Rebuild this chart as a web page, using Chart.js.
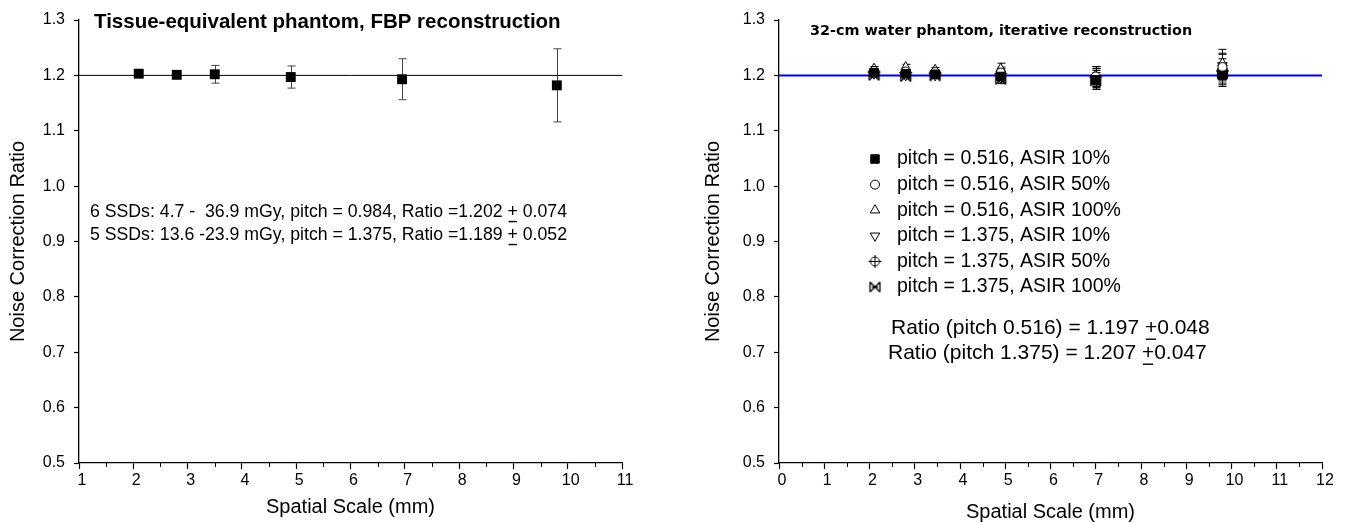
<!DOCTYPE html>
<html>
<head>
<meta charset="utf-8">
<title>Noise correction ratio</title>
<script src="https://cdn.jsdelivr.net/npm/chart.js@4.4.0/dist/chart.umd.min.js"></script>
<style>
  html, body { margin: 0; padding: 0; background: #fff; }
  .row { display: flex; width: 1349px; height: 523px; }
  .box { position: relative; height: 523px; }
</style>
</head>
<body>
<div class="row">
  <div class="box" style="width:675px"><canvas id="fbpChart"></canvas></div>
  <div class="box" style="width:674px"><canvas id="iterChart"></canvas></div>
</div>
<script>
const FONT = "'Liberation Sans', Arial, sans-serif";

// tick labels
const yTicks = [0.5, 0.6, 0.7, 0.8, 0.9, 1.0, 1.1, 1.2, 1.3];
const fbpXTicks = [1, 2, 3, 4, 5, 6, 7, 8, 9, 10, 11];
const iterXTicks = [0, 1, 2, 3, 4, 5, 6, 7, 8, 9, 10, 11, 12];
const refRatio = 1.2;

// tissue-equivalent phantom, FBP
const fbpScale = [2.1, 2.8, 3.5, 4.9, 6.95, 9.8];
const fbpRatio = [1.203, 1.201, 1.202, 1.197, 1.193, 1.182];
const fbpError = [0.005, 0.002, 0.016, 0.020, 0.037, 0.066];

// 32-cm water phantom, iterative (ASIR)
const iterScale = [2.1, 2.8, 3.45, 4.9, 7.0, 9.8];
const iterLabels = [
  'pitch = 0.516, ASIR 10%',
  'pitch = 0.516, ASIR 50%',
  'pitch = 0.516, ASIR 100%',
  'pitch = 1.375, ASIR 10%',
  'pitch = 1.375, ASIR 50%',
  'pitch = 1.375, ASIR 100%'
];
const p516asir10 = [1.205, 1.203, 1.202, 1.198, 1.192, 1.200];
const p516asir50 = [1.208, 1.207, 1.206, 1.205, 1.198, 1.215];
const p516asir100 = [1.212, 1.215, 1.210, 1.212, 1.200, 1.222];
const p1375asir10 = [1.203, 1.200, 1.200, 1.196, 1.195, 1.218];
const p1375asir50 = [1.206, 1.205, 1.204, 1.203, 1.197, 1.208];
const p1375asir100 = [1.200, 1.198, 1.199, 1.193, 1.190, 1.203];
const p516asir10Err = [0.004, 0.004, 0.004, 0.008, 0.017, 0.020];
const p516asir50Err = [0.004, 0.004, 0.004, 0.010, 0.018, 0.025];
const p516asir100Err = [0.004, 0.005, 0.004, 0.010, 0.016, 0.025];
const p1375asir10Err = [0.004, 0.004, 0.004, 0.008, 0.017, 0.020];
const p1375asir50Err = [0.004, 0.004, 0.004, 0.009, 0.016, 0.022];
const p1375asir100Err = [0.004, 0.004, 0.004, 0.008, 0.015, 0.020];

const iterNotes = ['Ratio (pitch 0.516) = 1.197 ±0.048', 'Ratio (pitch 1.375) = 1.207 ±0.047'];
const fbpNotes = [
  '6 SSDs: 4.7 -  36.9 mGy, pitch = 0.984, Ratio =1.202 ± 0.074',
  '5 SSDs: 13.6 -23.9 mGy, pitch = 1.375, Ratio =1.189 ± 0.052'
];

function points(xs, ys) {
  return xs.map((x, i) => ({ x: x, y: ys[i] }));
}

// small canvases for the two markers Chart.js has no style for
function markerCanvas(size, draw) {
  const c = document.createElement('canvas');
  c.width = c.height = size;
  const g = c.getContext('2d');
  g.strokeStyle = '#000';
  g.fillStyle = '#fff';
  g.lineWidth = 1;
  draw(g, size / 2);
  return c;
}
const circlePlus = markerCanvas(15, (g, m) => {
  g.beginPath();
  g.arc(m, m, 4.5, 0, Math.PI * 2);
  g.fill();
  g.stroke();
  g.beginPath();
  g.moveTo(m, m - 6.5); g.lineTo(m, m + 6.5);
  g.moveTo(m - 6.5, m); g.lineTo(m + 6.5, m);
  g.stroke();
});
const bowCross = markerCanvas(15, (g, m) => {
  g.lineWidth = 1.3;
  g.beginPath();
  g.moveTo(m - 5, m - 5); g.lineTo(m + 5, m + 5);
  g.moveTo(m - 5, m + 5); g.lineTo(m + 5, m - 5);
  g.moveTo(m - 5, m - 5); g.lineTo(m - 5, m + 5);
  g.moveTo(m + 5, m - 5); g.lineTo(m + 5, m + 5);
  g.moveTo(m - 3, m); g.lineTo(m + 3, m);
  g.stroke();
});

// draws "+" underlined where the string has ±
function drawPM(ctx, text, x, y, size) {
  const parts = text.split('±');
  let cx = x;
  parts.forEach((part, i) => {
    ctx.fillText(part, cx, y);
    cx += ctx.measureText(part).width;
    if (i < parts.length - 1) {
      ctx.fillText('+', cx, y);
      const w = ctx.measureText('+').width;
      ctx.fillRect(cx + 1, y + size * 0.5, w - 2, 1.4);
      cx += w;
    }
  });
}

const errorBars = {
  id: 'errorBars',
  beforeDatasetsDraw(chart, args, opts) {
    const { ctx } = chart;
    const x = chart.scales.x, y = chart.scales.y;
    ctx.save();
    ctx.strokeStyle = opts.color || '#000';
    ctx.lineWidth = 1;
    chart.data.datasets.forEach(ds => {
      if (!ds.errors) return;
      ds.data.forEach((p, j) => {
        const e = ds.errors[j];
        const px = Math.round(x.getPixelForValue(p.x)) + 0.5;
        const top = y.getPixelForValue(p.y + e);
        const bot = y.getPixelForValue(p.y - e);
        const cap = opts.cap || 4;
        ctx.beginPath();
        ctx.moveTo(px, top); ctx.lineTo(px, bot);
        ctx.moveTo(px - cap, top); ctx.lineTo(px + cap, top);
        ctx.moveTo(px - cap, bot); ctx.lineTo(px + cap, bot);
        ctx.stroke();
      });
    });
    ctx.restore();
  }
};

const minorTicks = {
  id: 'minorTicks',
  afterDraw(chart) {
    const { ctx } = chart;
    const x = chart.scales.x;
    ctx.save();
    ctx.strokeStyle = '#000';
    ctx.lineWidth = 1;
    for (let v = x.min + 0.5; v < x.max; v += 1) {
      const px = Math.round(x.getPixelForValue(v)) + 0.5;
      ctx.beginPath();
      ctx.moveTo(px, x.top);
      ctx.lineTo(px, x.top + 4);
      ctx.stroke();
    }
    ctx.restore();
  }
};

// text placed relative to the chart area
const notes = {
  id: 'notes',
  afterDraw(chart, args, opts) {
    const { ctx, chartArea } = chart;
    ctx.save();
    ctx.fillStyle = '#000';
    ctx.textBaseline = 'middle';
    (opts.items || []).forEach(it => {
      ctx.font = it.font;
      drawPM(ctx, it.text, chartArea.left + it.dx, chartArea.top + it.dy, parseFloat(it.font.replace('bold ', '')));
    });
    const lg = opts.legend;
    if (lg) {
      let row = 0;
      chart.data.datasets.forEach(ds => {
        if (!ds.label) return;
        const lx = chartArea.left + lg.dx, ly = chartArea.top + lg.dy + row * lg.step;
        ctx.fillStyle = ds.pointBackgroundColor;
        ctx.strokeStyle = ds.pointBorderColor;
        ctx.lineWidth = 1;
        Chart.helpers.drawPoint(ctx, {
          pointStyle: ds.pointStyle, radius: ds.pointRadius,
          rotation: ds.pointRotation || 0, borderWidth: 1
        }, lx, ly);
        ctx.fillStyle = '#000';
        ctx.font = lg.font;
        ctx.fillText(ds.label, lx + lg.gap, ly);
        row++;
      });
    }
    ctx.restore();
  }
};

function axes(xTicks, yWidth, xTitlePad, yTitlePad) {
  return {
    x: {
      type: 'linear',
      min: xTicks[0],
      max: xTicks[xTicks.length - 1],
      afterBuildTicks(s) { s.ticks = xTicks.map(v => ({ value: v })); },
      afterFit(s) { s.height = 60; },
      border: { color: '#000', width: 1.3 },
      grid: { drawOnChartArea: false, tickLength: 6, color: '#000', tickWidth: 1.2 },
      ticks: { color: '#000', font: { family: FONT, size: 16 }, padding: 2, labelOffset: 3, maxRotation: 0 },
      title: { display: true, text: 'Spatial Scale (mm)', color: '#000',
        font: { family: FONT, size: 20 }, padding: { top: 0, bottom: xTitlePad } }
    },
    y: {
      type: 'linear',
      min: yTicks[0],
      max: yTicks[yTicks.length - 1],
      afterBuildTicks(s) { s.ticks = yTicks.map(v => ({ value: v })); },
      afterFit(s) { s.width = yWidth; },
      border: { color: '#000', width: 1.3 },
      grid: { drawOnChartArea: false, tickLength: 5, color: '#000', tickWidth: 1.2 },
      ticks: { color: '#000', font: { family: FONT, size: 16 }, padding: 9,
        callback: v => v.toFixed(1) },
      title: { display: true, text: 'Noise Correction Ratio', color: '#000',
        font: { family: FONT, size: 20 }, padding: { top: yTitlePad, bottom: 0 } }
    }
  };
}

function refLine(xTicks, color, width) {
  return {
    type: 'line',
    data: [{ x: xTicks[0], y: refRatio }, { x: xTicks[xTicks.length - 1], y: refRatio }],
    borderColor: color,
    borderWidth: width,
    pointRadius: 0
  };
}

new Chart(document.getElementById('fbpChart'), {
  type: 'scatter',
  data: {
    datasets: [
      {
        data: points(fbpScale, fbpRatio),
        errors: fbpError,
        pointStyle: 'rect',
        pointRadius: 7,
        pointBackgroundColor: '#000',
        pointBorderColor: '#000',
        pointBorderWidth: 0
      },
      refLine(fbpXTicks, '#000', 1)
    ]
  },
  options: {
    responsive: true,
    maintainAspectRatio: false,
    animation: false,
    events: [],
    layout: { padding: { left: 0, right: 53, top: 20, bottom: 0 } },
    scales: axes(fbpXTicks, 79, 4, 6),
    plugins: {
      legend: { display: false },
      tooltip: { enabled: false },
      errorBars: { color: '#444', cap: 4 },
      notes: {
        items: [
          { text: 'Tissue-equivalent phantom, FBP reconstruction', dx: 15, dy: 2, font: 'bold 20.5px ' + FONT },
          { text: fbpNotes[0], dx: 11, dy: 192, font: '17.7px ' + FONT },
          { text: fbpNotes[1], dx: 11, dy: 215, font: '17.7px ' + FONT }
        ]
      }
    }
  },
  plugins: [errorBars, minorTicks, notes]
});

function iterSet(i, ys, errs, style) {
  return Object.assign({
    label: iterLabels[i],
    data: points(iterScale, ys),
    errors: errs,
    pointBackgroundColor: '#fff',
    pointBorderColor: '#000',
    pointBorderWidth: 1,
    pointRadius: 4.5
  }, style);
}

new Chart(document.getElementById('iterChart'), {
  type: 'scatter',
  data: {
    datasets: [
      iterSet(0, p516asir10, p516asir10Err, { pointStyle: 'rect', pointRadius: 6, pointBackgroundColor: '#000' }),
      iterSet(1, p516asir50, p516asir50Err, { pointStyle: 'circle', pointRadius: 4.5 }),
      iterSet(2, p516asir100, p516asir100Err, { pointStyle: 'triangle', pointRadius: 5.5 }),
      iterSet(3, p1375asir10, p1375asir10Err, { pointStyle: 'triangle', pointRadius: 5.5, pointRotation: 180 }),
      iterSet(4, p1375asir50, p1375asir50Err, { pointStyle: circlePlus }),
      iterSet(5, p1375asir100, p1375asir100Err, { pointStyle: bowCross }),
      refLine(iterXTicks, '#0000f0', 2)
    ]
  },
  options: {
    responsive: true,
    maintainAspectRatio: false,
    animation: false,
    events: [],
    layout: { padding: { left: 0, right: 27, top: 20, bottom: 0 } },
    scales: axes(iterXTicks, 104, -1, 26),
    plugins: {
      legend: { display: false },
      tooltip: { enabled: false },
      errorBars: { color: '#000', cap: 4 },
      notes: {
        items: [
          { text: '32-cm water phantom, iterative reconstruction', dx: 31, dy: 11, font: "bold 14.4px 'DejaVu Sans', Verdana, sans-serif" },
          { text: iterNotes[0], dx: 112, dy: 308, font: '21px ' + FONT },
          { text: iterNotes[1], dx: 109, dy: 333, font: '21px ' + FONT }
        ],
        legend: { dx: 96, dy: 139, step: 25.6, gap: 22, font: '19.5px ' + FONT }
      }
    }
  },
  plugins: [errorBars, minorTicks, notes]
});
</script>
</body>
</html>
